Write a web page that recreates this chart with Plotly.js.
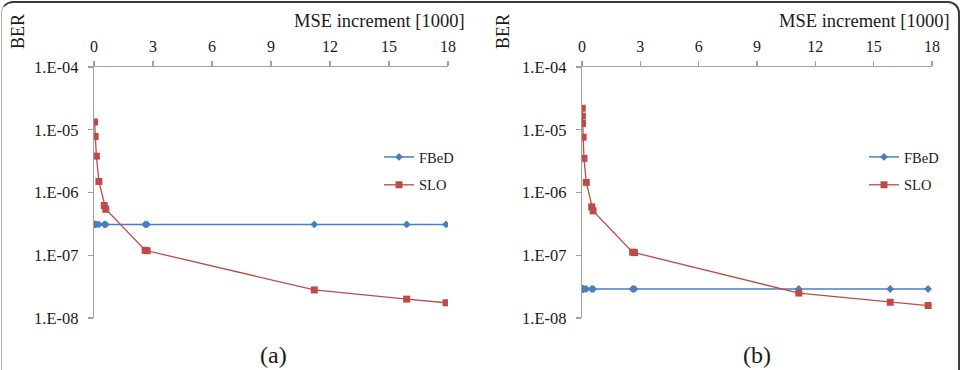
<!DOCTYPE html>
<html>
<head>
<meta charset="utf-8">
<script src="https://cdn.plot.ly/plotly-3.0.1.min.js"></script>
<style>
  html, body { margin: 0; padding: 0; background: #ffffff; }
  #wrap { position: relative; width: 965px; height: 370px; overflow: hidden; background: #ffffff; }
  #chart { position: absolute; left: 0; top: 0; width: 965px; height: 370px; }
  #frame {
    position: absolute; left: 1px; top: 1px; width: 959px; height: 420px;
    border-top: 2px solid #3c3c3c; border-right: 2px solid #3c3c3c;
    border-left: 1.5px solid #b4b4b4; border-radius: 12px;
    pointer-events: none; box-sizing: border-box;
  }
</style>
</head>
<body>
<div id="wrap">
  <div id="chart"></div>
  <div id="frame"></div>
</div>
<script>
// Panel (a): MSE increment (thousands) and bit error rate
const xA = [0.03, 0.06, 0.12, 0.25, 0.52, 0.6, 2.6, 2.7, 11.2, 15.9, 17.9];
const fbedA = [3.1e-7, 3.1e-7, 3.1e-7, 3.1e-7, 3.1e-7, 3.1e-7, 3.1e-7, 3.1e-7, 3.1e-7, 3.1e-7, 3.1e-7];
const sloA = [1.33e-5, 7.8e-6, 3.8e-6, 1.5e-6, 6.2e-7, 5.4e-7, 1.2e-7, 1.18e-7, 2.8e-8, 2.0e-8, 1.75e-8];

// Panel (b)
const xB = [0.01, 0.02, 0.03, 0.06, 0.1, 0.22, 0.5, 0.57, 2.6, 2.7, 11.15, 15.85, 17.8];
const fbedB = [2.9e-8, 2.9e-8, 2.9e-8, 2.9e-8, 2.9e-8, 2.9e-8, 2.9e-8, 2.9e-8, 2.9e-8, 2.9e-8, 2.9e-8, 2.9e-8, 2.9e-8];
const sloB = [2.2e-5, 1.65e-5, 1.26e-5, 7.6e-6, 3.5e-6, 1.45e-6, 5.9e-7, 5.1e-7, 1.12e-7, 1.1e-7, 2.5e-8, 1.78e-8, 1.58e-8];

const xTicks = [0, 3, 6, 9, 12, 15, 18];
const yTickVals = [1e-8, 1e-7, 1e-6, 1e-5, 1e-4];
const yTickText = ['1.E-08', '1.E-07', '1.E-06', '1.E-05', '1.E-04'];

const seriesNames = ['FBeD', 'SLO'];
const panelLabels = ['(a)', '(b)'];
const xTitle = 'MSE increment [1000]';
const yTitle = 'BER';

const FONT = 'Liberation Serif';
const BLUE = '#4a7ebb';
const RED = '#be4b48';
const AXIS = '#a0a0a0';
const TXT = '#1a1a1a';
const W = 965, H = 370;

function fbedTrace(x, y, xa, ya, leg) {
  return {
    x: x, y: y, xaxis: xa, yaxis: ya, name: seriesNames[0], legend: leg,
    legendgroup: leg + 'f', type: 'scatter', mode: 'lines+markers',
    line: { color: BLUE, width: 1.5 },
    marker: { symbol: 'diamond', size: 6, color: BLUE }
  };
}
function sloTrace(x, y, xa, ya, leg) {
  return {
    x: x, y: y, xaxis: xa, yaxis: ya, name: seriesNames[1], legend: leg,
    legendgroup: leg + 's', type: 'scatter', mode: 'lines+markers',
    line: { color: RED, width: 1.3 },
    marker: { symbol: 'square', size: 7, color: RED }
  };
}

const data = [
  fbedTrace(xA, fbedA, 'x', 'y', 'legend'),
  sloTrace(xA, sloA, 'x', 'y', 'legend'),
  fbedTrace(xB, fbedB, 'x2', 'y2', 'legend2'),
  sloTrace(xB, sloB, 'x2', 'y2', 'legend2')
];

function xAxis(dom, anchor) {
  return {
    domain: dom, anchor: anchor, side: 'top', range: [0, 18],
    tickvals: xTicks, ticktext: xTicks.map(String),
    showline: true, linecolor: AXIS, linewidth: 1.2,
    ticks: 'outside', ticklen: 5, tickcolor: AXIS, tickwidth: 1.2,
    ticklabelstandoff: 2,
    showgrid: false, zeroline: false, automargin: false,
    tickfont: { family: FONT, size: 16, color: TXT }
  };
}
function yAxis(dom, anchor) {
  return {
    domain: dom, anchor: anchor, type: 'log', range: [-8, -4],
    tickvals: yTickVals, ticktext: yTickText,
    showline: true, linecolor: AXIS, linewidth: 1.2,
    ticks: 'outside', ticklen: 5, tickcolor: AXIS, tickwidth: 1.2,
    ticklabelstandoff: 6,
    showgrid: false, zeroline: false, automargin: false,
    tickfont: { family: FONT, size: 16.5, color: TXT }
  };
}

const yDom = [1 - 318 / H, 1 - 67 / H];

function legendAt(xpx, ypx) {
  return {
    x: xpx / W, y: 1 - ypx / H, xanchor: 'left', yanchor: 'top',
    bgcolor: 'rgba(0,0,0,0)', borderwidth: 0,
    traceorder: 'grouped', tracegroupgap: 6,
    font: { family: FONT, size: 14.5, color: TXT }
  };
}

function label(text, xpx, ypx, size, xanchor, rot) {
  return {
    text: text, xref: 'paper', yref: 'paper', x: xpx / W, y: 1 - ypx / H,
    xanchor: xanchor, yanchor: 'middle', showarrow: false, textangle: rot || 0,
    font: { family: FONT, size: size, color: TXT }
  };
}

const layout = {
  width: W, height: H,
  margin: { l: 0, r: 0, t: 0, b: 0 },
  paper_bgcolor: 'rgba(0,0,0,0)', plot_bgcolor: 'rgba(0,0,0,0)',
  font: { family: FONT, color: TXT },
  showlegend: true,
  xaxis: xAxis([94 / W, 448 / W], 'y'),
  yaxis: yAxis(yDom, 'x'),
  xaxis2: xAxis([582 / W, 932 / W], 'y2'),
  yaxis2: yAxis(yDom, 'x2'),
  legend: legendAt(379, 141),
  legend2: legendAt(864, 141),
  annotations: [
    label(xTitle, 467, 21, 18.5, 'right'),
    label(xTitle, 952, 21, 18.5, 'right'),
    label(yTitle, 18, 32, 18, 'center', -90),
    label(yTitle, 503, 32, 18, 'center', -90),
    label(panelLabels[0], 273, 355, 24, 'center'),
    label(panelLabels[1], 757, 355, 24, 'center')
  ]
};

Plotly.newPlot('chart', data, layout, { displayModeBar: false, staticPlot: true });
</script>
</body>
</html>
